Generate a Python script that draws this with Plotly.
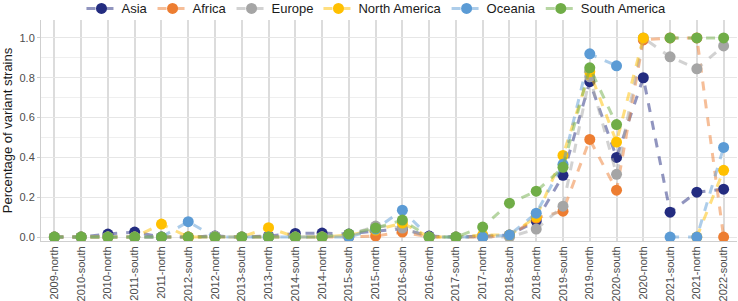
import plotly.graph_objects as go

categories = ["2009-north", "2010-south", "2010-north", "2011-south", "2011-north",
              "2012-south", "2012-north", "2013-south", "2013-north", "2014-south",
              "2014-north", "2015-south", "2015-north", "2016-south", "2016-north",
              "2017-south", "2017-north", "2018-south", "2018-north", "2019-south",
              "2019-north", "2020-south", "2020-north", "2021-south", "2021-north",
              "2022-south"]

asia = [0, 0, 0.015, 0.025, 0.0, 0.0, 0.005, 0.0, 0.005, 0.018, 0.02, 0.015, 0.03, 0.04,
        0.005, 0.0, 0.005, 0.01, 0.08, 0.31, 0.78, 0.40, 0.80, 0.125, 0.225, 0.24]
africa = [0, 0, 0, 0, 0, 0, 0, 0, 0, 0, 0, 0, 0.005, 0.025, 0, 0, 0, 0.005, 0.095, 0.13,
          0.49, 0.235, 0.99, 1.0, 1.0, 0.0]
europe = [0, 0, 0, 0, 0, 0, 0.005, 0, 0, 0, 0, 0.01, 0.055, 0.045, 0, 0, 0, 0.0, 0.04,
          0.155, 0.805, 0.315, 1.0, 0.905, 0.845, 0.96]
north_america = [0, 0, 0, 0, 0.065, 0, 0, 0, 0.047, 0, 0, 0.01, 0.035, 0.07, 0, 0, 0.01,
                 0.01, 0.1, 0.41, 0.83, 0.477, 1.0, None, 0.0, 0.335]
oceania = [0, 0, 0, 0, 0, 0.077, 0, 0, 0, 0, 0, 0, 0.04, 0.135, 0, 0, 0, 0.01, 0.12,
           0.365, 0.92, 0.86, None, 0.0, 0.0, 0.45]
south_america = [0, 0, 0, 0, 0, 0, 0, 0, 0, 0, 0, 0.015, 0.045, 0.085, 0, 0, 0.05, 0.17,
                 0.23, 0.35, 0.85, 0.565, None, 1.0, 1.0, 1.0]

series = [
    ("Asia", asia, "#232c80", "rgba(35,44,128,0.5)"),
    ("Africa", africa, "#ed7d31", "rgba(237,125,49,0.5)"),
    ("Europe", europe, "#a5a5a5", "rgba(165,165,165,0.5)"),
    ("North America", north_america, "#ffc000", "rgba(255,192,0,0.5)"),
    ("Oceania", oceania, "#5b9bd5", "rgba(91,155,213,0.5)"),
    ("South America", south_america, "#70ad47", "rgba(112,173,71,0.5)"),
]

fig = go.Figure()
for name, vals, mcol, lcol in series:
    fig.add_trace(go.Scatter(
        x=categories, y=vals, name=name, mode="lines+markers",
        line=dict(color=lcol, width=3, dash="dash"),
        marker=dict(color=mcol, size=11),
        connectgaps=False,
    ))

fig.update_layout(
    width=738, height=301,
    margin=dict(l=41, r=1, t=20, b=60, autoexpand=False),
    paper_bgcolor="white", plot_bgcolor="white",
    font=dict(family="Liberation Sans, Arial, sans-serif", size=11, color="#4d4d4d"),
    showlegend=True,
    legend=dict(orientation="h", x=0.482, xanchor="center", y=0.972, yanchor="middle",
                yref="container",
                font=dict(size=13, color="#1a1a1a"), itemwidth=30,
                bgcolor="rgba(0,0,0,0)"),
)

fig.update_xaxes(
    type="category", range=[-0.5, 25.5], tickangle=-90, automargin=False,
    showgrid=True, gridcolor="#dcdcdc", gridwidth=1.5,
    showline=True, linecolor="#cfcfcf", linewidth=1,
    tickfont=dict(size=11, color="#4d4d4d"), ticks="", zeroline=False,
)
fig.update_yaxes(
    range=[-0.02, 1.09], tickvals=[0, 0.2, 0.4, 0.6, 0.8, 1.0], automargin=False,
    ticktext=["0.0", "0.2", "0.4", "0.6", "0.8", "1.0"],
    showgrid=True, gridcolor="#e6e6e6", gridwidth=1,
    minor=dict(dtick=0.1, tick0=0, showgrid=True, gridcolor="#efefef", gridwidth=1),
    showline=True, linecolor="#cfcfcf", linewidth=1,
    ticks="outside", ticklen=3, tickcolor="#cfcfcf",
    zeroline=False,
    title=dict(text="Percentage of variant strains", font=dict(size=13, color="#1a1a1a"), standoff=4),
    tickfont=dict(size=11, color="#4d4d4d"),
)

fig.write_html("out.html", config={"displayModeBar": False},
               post_script="document.body.style.margin='0';document.body.style.overflow='hidden';")
